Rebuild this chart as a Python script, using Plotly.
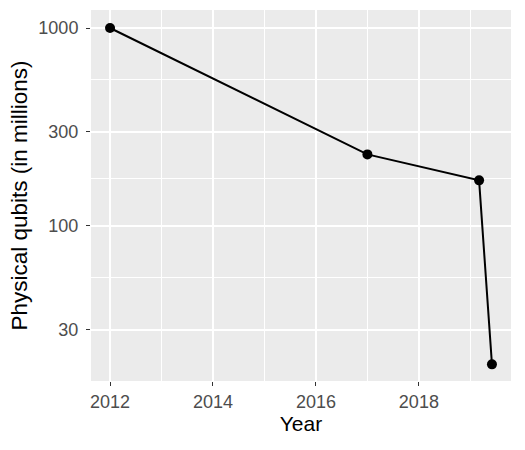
import plotly.graph_objects as go

years = [2012, 2017, 2019.17, 2019.42]
qubits = [1000, 230, 170, 20]

x_ticks = [2012, 2014, 2016, 2018]
x_minor = [2013, 2015, 2017, 2019]
y_ticks = [30, 100, 300, 1000]
y_tick_labels = ["30", "100", "300", "1000"]
y_minor = [54.77, 173.2, 547.7]

FONT = "Liberation Sans, Arial, sans-serif"

fig = go.Figure()
fig.add_trace(go.Scatter(
    x=years, y=qubits, mode="lines+markers",
    line=dict(color="black", width=2),
    marker=dict(color="black", size=10),
    showlegend=False,
))

fig.update_layout(
    width=525, height=450,
    margin=dict(l=91, r=14, t=10, b=69),
    paper_bgcolor="white",
    plot_bgcolor="#EBEBEB",
    font=dict(family=FONT),
)
fig.update_xaxes(
    range=[2011.63, 2019.79],
    tickvals=x_ticks, ticktext=[str(t) for t in x_ticks],
    showgrid=True, gridcolor="white", gridwidth=1.6,
    minor=dict(tickvals=x_minor, showgrid=True, gridcolor="white", gridwidth=0.8, ticks=""),
    ticks="outside", ticklen=4, tickwidth=1.2, tickcolor="#333333",
    tickfont=dict(size=18, color="#4D4D4D", family=FONT),
    ticklabelstandoff=0,
    title=dict(text="Year", font=dict(size=21, color="black", family=FONT), standoff=4),
    zeroline=False, showline=False,
)
fig.update_yaxes(
    type="log",
    range=[1.217, 3.091],
    tickvals=y_ticks, ticktext=y_tick_labels,
    showgrid=True, gridcolor="white", gridwidth=1.6,
    minor=dict(tickvals=y_minor, showgrid=True, gridcolor="white", gridwidth=0.8, ticks=""),
    ticks="outside", ticklen=4, tickwidth=1.2, tickcolor="#333333",
    tickfont=dict(size=18, color="#4D4D4D", family=FONT),
    ticklabelstandoff=4,
    title=dict(text="Physical qubits (in millions)", font=dict(size=22.5, color="black", family=FONT), standoff=4),
    zeroline=False, showline=False,
)

fig.write_html("out.html")
